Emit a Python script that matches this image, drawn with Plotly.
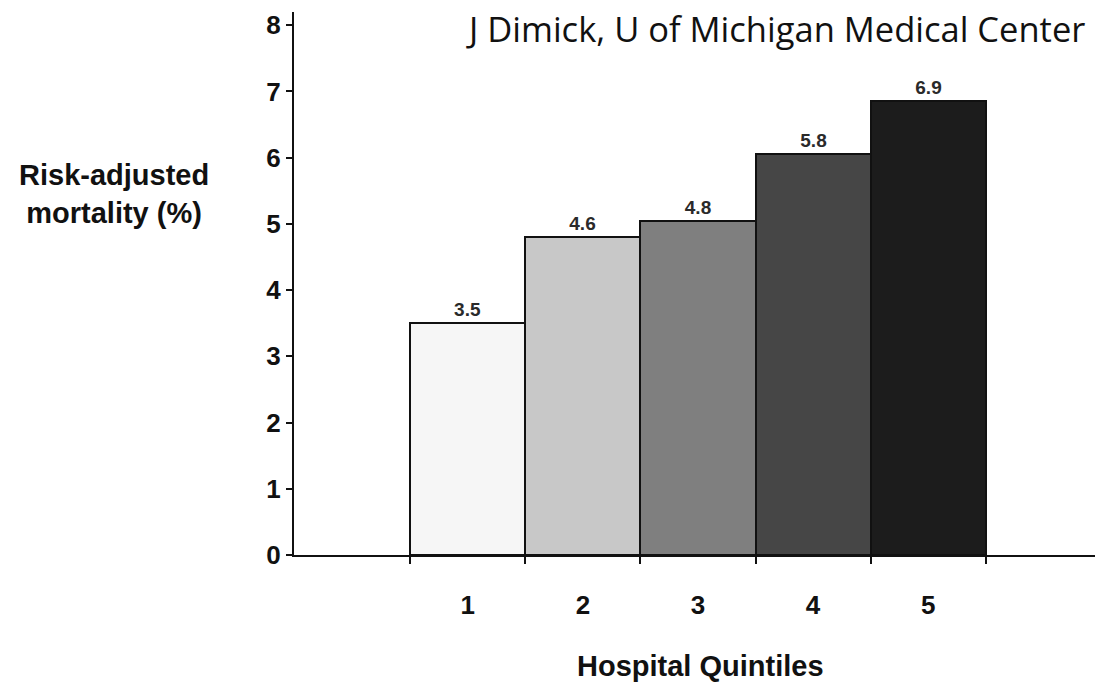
import plotly.graph_objects as go

quintiles = [1, 2, 3, 4, 5]
bar_heights = [3.5, 4.8, 5.05, 6.05, 6.85]
bar_labels = ["3.5", "4.6", "4.8", "5.8", "6.9"]
bar_colors = ["#f6f6f6", "#c8c8c8", "#7f7f7f", "#464646", "#1c1c1c"]
y_ticks = [0, 1, 2, 3, 4, 5, 6, 7, 8]
boundaries = [0.5, 1.5, 2.5, 3.5, 4.5, 5.5]

arial = "Liberation Sans, Arial, sans-serif"

W, H = 1095, 696
L, R, T, B = 294, 0, 12, 141
pw, ph = W - L - R, H - T - B


def px(x):
    return (x - L) / pw


def py(y):
    return (H - B - y) / ph


fig = go.Figure()
fig.add_trace(go.Bar(
    x=quintiles, y=bar_heights,
    marker=dict(color=bar_colors, line=dict(color="#111111", width=2)),
    width=1.0,
    text=[f"<b>{t}</b>" for t in bar_labels], textposition="outside",
    textfont=dict(family=arial, size=19, color="#2a2a2a"),
    cliponaxis=False,
))

fig.update_layout(
    width=W, height=H,
    paper_bgcolor="white", plot_bgcolor="white",
    margin=dict(l=L, r=R, t=T, b=B, autoexpand=False),
    showlegend=False,
    bargap=0,
    xaxis=dict(
        range=[-0.51, 6.45],
        showline=True, linecolor="#111111", linewidth=2,
        showgrid=False, zeroline=False,
        tickvals=quintiles, ticktext=[f"<b>{q}</b>" for q in quintiles],
        ticks="", ticklabelstandoff=26,
        tickfont=dict(family=arial, size=26, color="#111111"),
        minor=dict(tickvals=boundaries, ticks="outside", ticklen=7,
                   tickwidth=2, tickcolor="#111111", showgrid=False),
    ),
    yaxis=dict(
        range=[0, 8.2],
        showline=True, linecolor="#111111", linewidth=2,
        showgrid=False, zeroline=False,
        tickvals=y_ticks, ticktext=[f"<b>{v}</b>" for v in y_ticks],
        ticks="outside", ticklen=6, tickwidth=2, tickcolor="#111111",
        ticklabelstandoff=0,
        tickfont=dict(family=arial, size=26, color="#111111"),
    ),
    annotations=[
        dict(text="J Dimick, U of Michigan Medical Center",
             x=px(1087), y=py(28), xref="paper", yref="paper",
             xanchor="right", yanchor="middle", showarrow=False,
             font=dict(family="Open Sans, Liberation Sans, sans-serif", size=34.5, color="#111111")),
        dict(text="<b>Risk-adjusted<br>mortality (%)</b>",
             x=px(114), y=py(194), xref="paper", yref="paper",
             xanchor="center", yanchor="middle", showarrow=False,
             font=dict(family=arial, size=29, color="#111111")),
        dict(text="<b>Hospital Quintiles</b>",
             x=px(700), y=py(666), xref="paper", yref="paper",
             xanchor="center", yanchor="middle", showarrow=False,
             font=dict(family=arial, size=29, color="#111111")),
    ],
)

fig.write_html("out.html", config={"displayModeBar": False},
               post_script="document.body.style.margin='0';document.body.style.overflow='hidden';")
